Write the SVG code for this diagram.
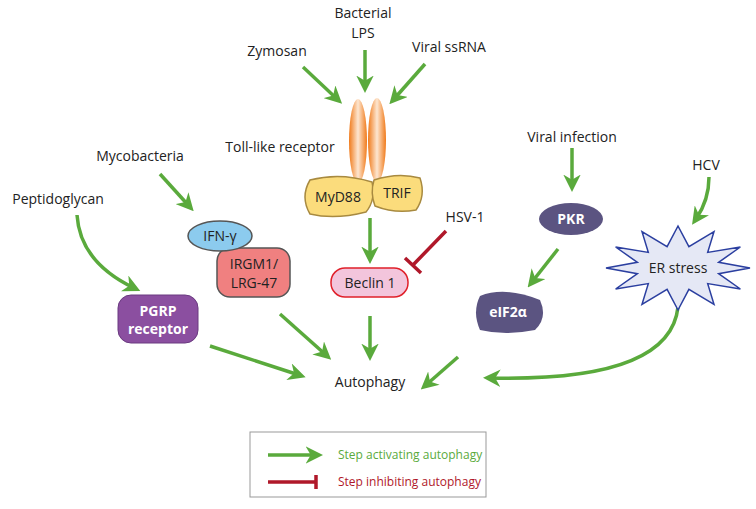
<svg xmlns="http://www.w3.org/2000/svg" width="756" height="509" viewBox="0 0 756 509">
<style>
text{font-family:"Open Sans","Liberation Sans",sans-serif;font-size:14px;fill:#222;text-anchor:middle}
.g{stroke:#5aaa3c;stroke-width:3.5;fill:none;marker-end:url(#ah)}
.w{fill:#fff;font-weight:bold}
</style>
<defs>
<marker id="ah" viewBox="0 0 10 10" refX="6" refY="5" markerWidth="5" markerHeight="5" orient="auto"><path d="M0,0L10,5L0,10L3,5Z" fill="#5aaa3c"/></marker>
<linearGradient id="og" x1="0" x2="1"><stop offset="0" stop-color="#f07a1a"/><stop offset="0.5" stop-color="#fde6d0"/><stop offset="1" stop-color="#f07a1a"/></linearGradient>
</defs>
<rect width="756" height="509" fill="#fff"/>
<g id="connectors">
<path class="g" d="M365,50V86"/>
<path class="g" d="M303,67L337,99"/>
<path class="g" d="M425,64L394,99"/>
<path class="g" d="M370,218V257"/>
<path d="M446,231L413,265M405,258L421,273" stroke="#b0182a" stroke-width="3.5" fill="none"/>
<path class="g" d="M160,174L189,206"/>
<path class="g" d="M77,215Q80,262 134,288"/>
<path class="g" d="M210,346L299,375"/>
<path class="g" d="M280,314L326,355"/>
<path class="g" d="M370,316V354"/>
<path class="g" d="M458,357L426,385"/>
<path class="g" d="M678,307Q670,382 490,378"/>
<path class="g" d="M572,148V185"/>
<path class="g" d="M558,249L532,282"/>
<path class="g" d="M709,177Q709,200 696,219"/>
</g>
<g id="labels">
<text x="363" y="18">Bacterial</text><text x="363" y="38">LPS</text>
<text x="277" y="56">Zymosan</text>
<text x="449" y="52">Viral ssRNA</text>
<text x="280" y="152">Toll-like receptor</text>
<text x="465" y="222">HSV-1</text>
<text x="140" y="161">Mycobacteria</text>
<text x="58" y="204">Peptidoglycan</text>
<text x="572" y="142">Viral infection</text>
<text x="706" y="170">HCV</text>
<text x="370" y="387">Autophagy</text>
</g>
<g id="tlr">
<ellipse cx="358" cy="141" rx="9" ry="42" fill="url(#og)"/>
<ellipse cx="377" cy="140" rx="9" ry="42" fill="url(#og)"/>
</g>
<g id="myd88"><path d="M310,180Q340,172 372,182Q376,200 366,212Q335,220 310,214Q300,197 310,180Z" fill="#fbdc7c" stroke="#a88a40" stroke-width="1.5"/><text x="338" y="202">MyD88</text></g>
<g id="trif"><path d="M374,180Q398,172 420,178Q426,196 416,210Q395,214 375,206Q370,193 374,180Z" fill="#fbdc7c" stroke="#a88a40" stroke-width="1.5"/><text x="397" y="198">TRIF</text></g>
<g id="beclin"><rect x="331" y="268" width="77" height="29" rx="14" fill="#f3c5dc" stroke="#e0202a" stroke-width="1.5"/><text x="370" y="288">Beclin 1</text></g>
<g id="irgm"><rect x="217" y="248" width="73" height="49" rx="13" fill="#f08080" stroke="#555" stroke-width="1.5"/><text x="254" y="269">IRGM1/</text><text x="254" y="288">LRG-47</text></g>
<g id="ifn"><ellipse cx="220" cy="236" rx="32" ry="15" fill="#8ccbee" stroke="#555" stroke-width="1.5"/><text x="220" y="241">IFN-γ</text></g>
<g id="pgrp"><rect x="118" y="295" width="80" height="48" rx="13" fill="#8b4fa0" stroke="#6a3a80" stroke-width="1"/><text class="w" x="158" y="316">PGRP</text><text class="w" x="158" y="334">receptor</text></g>
<g id="pkr"><ellipse cx="571" cy="219" rx="32" ry="16" fill="#5b5481"/><text class="w" x="571" y="224">PKR</text></g>
<g id="eif"><path d="M480,296Q505,286 540,300Q548,318 535,330Q505,336 480,330Q472,312 480,296Z" fill="#5b5481"/><text class="w" x="508" y="317">eIF2α</text></g>
<g id="er"><polygon points="750,268 718.6,262.3 740.4,247 707.7,252.4 714,231.6 688.9,246.7 678,226 667.1,246.7 642,231.6 648.3,252.4 615.6,247 637.4,262.3 606,268 637.4,273.7 615.6,289 648.3,283.6 642,304.4 667.1,289.3 678,310 688.9,289.3 714,304.4 707.7,283.6 740.4,289 718.6,273.7" fill="#e5e8f5" stroke="#2b3fa0" stroke-width="1.5"/><text x="678" y="273">ER stress</text></g>
<g id="legend">
<rect x="250" y="432" width="236" height="65" fill="#fff" stroke="#999"/>
<path class="g" d="M268,455H316"/>
<path d="M268,482H316M316,475V489" stroke="#b0182a" stroke-width="3.5" fill="none"/>
<text x="338" y="459" style="text-anchor:start;fill:#5aaa3c;font-size:12px">Step activating autophagy</text>
<text x="338" y="486" style="text-anchor:start;fill:#b0182a;font-size:12px">Step inhibiting autophagy</text>
</g>
</svg>
